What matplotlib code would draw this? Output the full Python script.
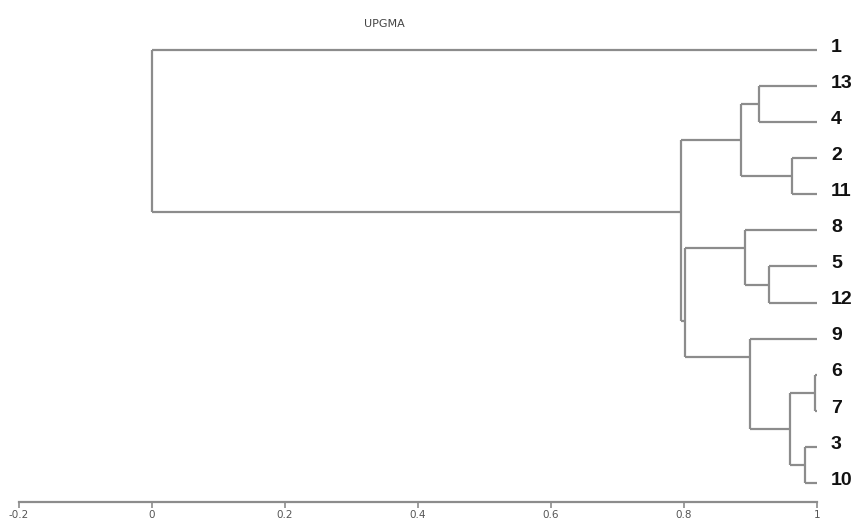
import matplotlib
matplotlib.use('Agg')
import matplotlib.pyplot as plt

# leaves in display order (top to bottom)
leaf_labels = ['1', '13', '4', '2', '11', '8', '5', '12', '9', '6', '7', '3', '10']

# merges, scipy style: ids 0..12 are leaves, 13+ are the merges in this order
merge_a = [9, 11, 3, 13, 6, 1, 8, 5, 18, 20, 21, 0]
merge_b = [10, 12, 4, 14, 7, 2, 16, 17, 15, 19, 22, 23]
merge_sim = [0.997, 0.982, 0.962, 0.960, 0.928, 0.913, 0.899, 0.892, 0.886,
             0.802, 0.795, 0.0]

tick_values = [-0.2, 0, 0.2, 0.4, 0.6, 0.8, 1]
tick_labels = ['-0.2', '0', '0.2', '0.4', '0.6', '0.8', '1']

LINE = '#8c8c8c'


def build_layout():
    n = len(leaf_labels)
    xpos = {i: 1.0 for i in range(n)}
    ypos = {i: float(i) for i in range(n)}
    span = {i: (i, i) for i in range(n)}
    for k, (a, b, s) in enumerate(zip(merge_a, merge_b, merge_sim)):
        node = n + k
        xpos[node] = s
        # node sits on the boundary between the two child groups
        ypos[node] = (span[a][1] + span[b][0]) / 2.0
        span[node] = (span[a][0], span[b][1])
    return xpos, ypos


def main():
    fig = plt.figure(figsize=(8.59, 5.22), dpi=100)
    ax = fig.add_axes([19 / 859, 20 / 522, 798 / 859, 472 / 522])

    xpos, ypos = build_layout()
    n = len(leaf_labels)
    for k, (a, b) in enumerate(zip(merge_a, merge_b)):
        node = n + k
        x = xpos[node]
        ax.plot([x, x], [ypos[a], ypos[b]], color=LINE, lw=1.6,
                solid_capstyle='butt')
        for c in (a, b):
            ax.plot([x, xpos[c]], [ypos[c], ypos[c]], color=LINE, lw=1.6,
                    solid_capstyle='butt')

    for i, lab in enumerate(leaf_labels):
        ax.annotate(lab, (1.0, i), xytext=(10, 2), textcoords='offset points',
                    ha='left', va='center', fontsize=14, fontweight='bold',
                    family=['Liberation Sans', 'DejaVu Sans'], color='#111111',
                    annotation_clip=False)

    ax.set_xlim(-0.2, 1.0)
    ax.set_ylim(12.527, -0.554)
    for side in ('top', 'left', 'right'):
        ax.spines[side].set_visible(False)
    ax.spines['bottom'].set_color(LINE)
    ax.spines['bottom'].set_linewidth(1.6)
    ax.set_yticks([])
    ax.set_xticks(tick_values)
    ax.set_xticklabels(tick_labels,
                       family=['Liberation Sans Narrow', 'DejaVu Sans'],
                       fontsize=7.5, color='#555555')
    ax.tick_params(axis='x', direction='out', length=4, width=1.2,
                   color=LINE, pad=2)

    fig.text(384 / 859, 1 - 24 / 522, 'UPGMA', ha='center', va='center',
             fontsize=8, color='#444444',
             family=['Liberation Sans Narrow', 'DejaVu Sans'])

    fig.savefig('out.png', dpi=100)
    return 0


if __name__ == '__main__':
    main()
